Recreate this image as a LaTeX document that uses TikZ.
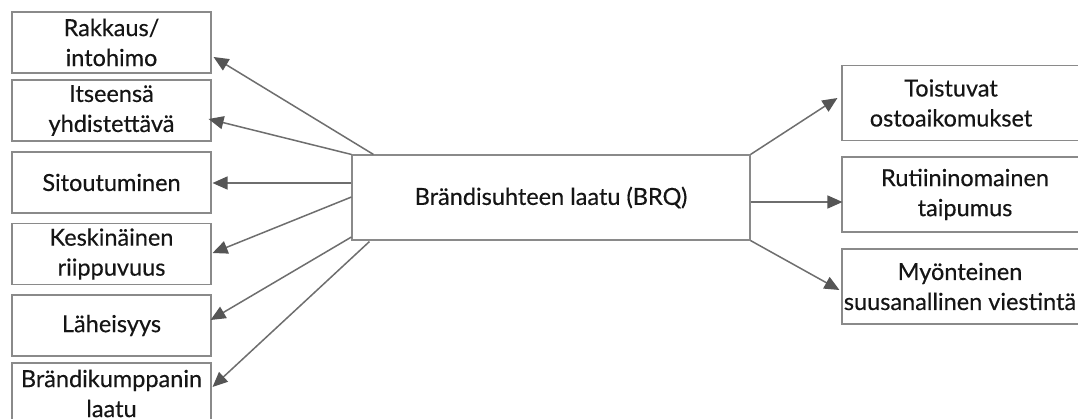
\documentclass[tikz,border=0pt]{standalone}
\usepackage{fontspec}
\setmainfont{Lato}[FakeBold=0.35]
\usetikzlibrary{arrows.meta,calc}
\definecolor{edgegray}{HTML}{8A8A8A}
\definecolor{arrowgray}{HTML}{6E6E6E}
\definecolor{headgray}{HTML}{555555}
\definecolor{inkcol}{HTML}{151515}
\tikzset{
  labeltext/.style={inner sep=0pt, text=inkcol, align=center,
    font=\fontsize{23.5}{30}\selectfont},
  box/.style={labeltext, draw=edgegray, line width=1.1pt, rectangle},
  leftbox/.style={box, minimum width=199pt, minimum height=61pt},
  rightbox/.style={box, minimum width=250pt, minimum height=75pt},
  link/.style={draw=arrowgray, line width=1.5pt,
    -{Triangle[length=15pt,width=13pt,fill=headgray,color=headgray]}},
}
\begin{document}
\begin{tikzpicture}[x=1pt,y=-1pt]
\useasboundingbox[fill=white] (0,0) rectangle (1078,418);

% central construct
\node[box, minimum width=398pt, minimum height=85pt] (brq) at (551,197.5) {Brändisuhteen laatu (BRQ)};

% dimensions on the left
\node[leftbox] (l1) at (111.5,42.5)  {Rakkaus/\\intohimo};
\node[leftbox] (l2) at (111.5,110.5) {Itseensä\\yhdistettävä};
\node[leftbox] (l3) at (111.5,182.5) {Sitoutuminen};
\node[leftbox] (l4) at (111.5,254)   {Keskinäinen\\riippuvuus};
\node[leftbox] (l5) at (111.5,325.5) {Läheisyys};
\node[leftbox] (l6) at (111.5,393.5) {Brändikumppanin\\laatu};

% outcomes on the right: frames run past the right margin
\node[rightbox] (r1) at (967,103)   {};
\node[rightbox] (r2) at (967,194.5) {};
\node[rightbox] (r3) at (967,286.5) {};
\node[labeltext] (t1) at (951,103)   {Toistuvat\\ostoaikomukset};
\node[labeltext] (t2) at (965,194.5) {Rutiininomainen\\taipumus};
\node[labeltext] (t3) at (960,286.5) {Myönteinen\\suusanallinen viestintä};

% arrows from the central box
\draw[link] ($(brq.north west)+(22,0)$) -- ($(l1.east)+(2,14.5)$);
\draw[link] (brq.north west) -- ($(l2.east)+(-3,8.5)$);
\draw[link] ($(brq.west)+(0,-14.5)$) -- ($(l3.east)+(1,0.5)$);
\draw[link] ($(brq.west)+(0,-0.5)$) -- ($(l4.east)+(1,-1)$);
\draw[link] ($(brq.west)+(0,39.5)$) -- ($(l5.east)+(-1,-5.5)$);
\draw[link] ($(brq.south west)+(18,1)$) -- ($(l6.east)+(1,-6.5)$);

\draw[link] (brq.north east) -- ($(r1.west)+(-4,-5)$);
\draw[link] ($(brq.east)+(0,4.5)$) -- ($(r2.west)+(1,7.5)$);
\draw[link] (brq.south east) -- ($(r3.west)+(-2,3.5)$);
\end{tikzpicture}
\end{document}
